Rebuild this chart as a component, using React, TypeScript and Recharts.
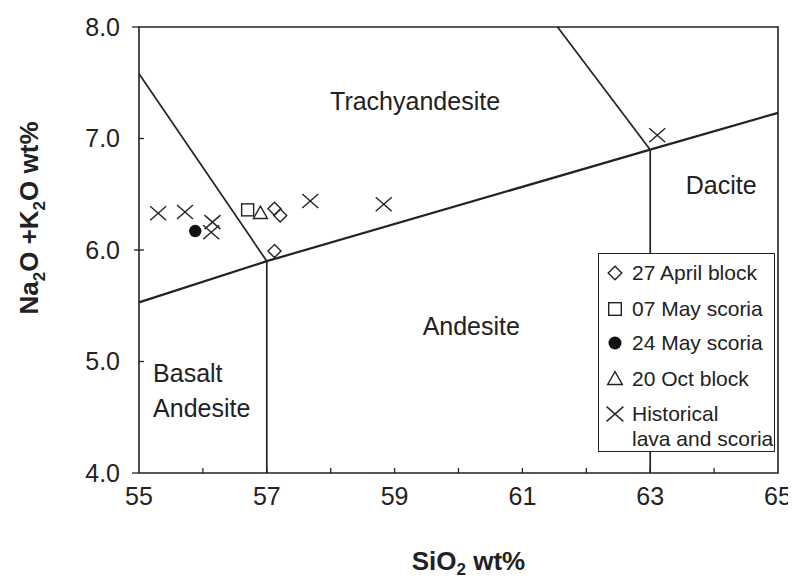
import React from 'react';
import {
  ComposedChart,
  Scatter,
  XAxis,
  YAxis,
  ReferenceLine,
  ReferenceArea,
  ReferenceDot,
  Legend,
  Label,
} from 'recharts';

const FONT = '"Liberation Sans", Arial, Helvetica, sans-serif';
const INK = '#222222';

// ---- axis ticks ----
const xTicks = [55, 56, 57, 58, 59, 60, 61, 62, 63, 64, 65];
const xTickLabels = ['55', '', '57', '', '59', '', '61', '', '63', '', '65'];
const yTicks = [4, 5, 6, 7, 8];
const yTickLabels = ['4.0', '5.0', '6.0', '7.0', '8.0'];

// ---- series ----
const seriesNames = ['27 April block', '07 May scoria', '24 May scoria', '20 Oct block', 'Historical'];
const seriesShapes = ['diamond', 'square', 'circle', 'triangle', 'cross'];

const april27 = [
  { x: 57.12, y: 6.37 },
  { x: 57.21, y: 6.31 },
  { x: 57.12, y: 5.99 },
];
const may07 = [{ x: 56.7, y: 6.36 }];
const may24 = [{ x: 55.88, y: 6.17 }];
const oct20 = [{ x: 56.9, y: 6.33 }];
const historical = [
  { x: 55.3, y: 6.33 },
  { x: 55.72, y: 6.34 },
  { x: 56.15, y: 6.25 },
  { x: 56.13, y: 6.16 },
  { x: 57.68, y: 6.44 },
  { x: 58.83, y: 6.41 },
  { x: 63.11, y: 7.03 },
];

// ---- TAS field boundaries (segments) ----
const boundaries = [
  [{ x: 55, y: 5.53 }, { x: 57, y: 5.9 }],
  [{ x: 57, y: 5.9 }, { x: 63, y: 6.9 }],
  [{ x: 63, y: 6.9 }, { x: 65, y: 7.23 }],
  [{ x: 57, y: 4 }, { x: 57, y: 5.9 }],
  [{ x: 63, y: 4 }, { x: 63, y: 6.9 }],
  [{ x: 55, y: 7.58 }, { x: 57, y: 5.9 }],
  [{ x: 61.55, y: 8 }, { x: 63, y: 6.9 }],
];

// ---- field names ----
const fieldNames = ['Trachyandesite', 'Dacite', 'Andesite', 'Basalt', 'Andesite'];
const fieldX = [59.32, 64.11, 60.2, 55.22, 55.22];
const fieldY = [7.336, 6.583, 5.318, 4.897, 4.583];
const fieldAnchor = ['middle', 'middle', 'middle', 'start', 'start'];

function marker(shape: string, cx: number, cy: number, s = 1) {
  const sw = 1.4;
  switch (shape) {
    case 'diamond': {
      const h = 6.5 * s;
      return (
        <polygon
          points={`${cx},${cy - h} ${cx + h},${cy} ${cx},${cy + h} ${cx - h},${cy}`}
          fill="none"
          stroke={INK}
          strokeWidth={sw}
        />
      );
    }
    case 'square': {
      const h = 6 * s;
      return <rect x={cx - h} y={cy - h} width={2 * h} height={2 * h} fill="none" stroke={INK} strokeWidth={sw} />;
    }
    case 'circle':
      return <circle cx={cx} cy={cy} r={6.2 * s} fill="#111" stroke="none" />;
    case 'triangle': {
      const h = 7 * s;
      return (
        <polygon
          points={`${cx},${cy - h} ${cx + h},${cy + 0.75 * h} ${cx - h},${cy + 0.75 * h}`}
          fill="none"
          stroke={INK}
          strokeWidth={sw}
        />
      );
    }
    default: {
      const h = 8 * s;
      const v = 7 * s;
      return (
        <g stroke={INK} strokeWidth={sw}>
          <line x1={cx - h} y1={cy - v} x2={cx + h} y2={cy + v} />
          <line x1={cx - h} y1={cy + v} x2={cx + h} y2={cy - v} />
        </g>
      );
    }
  }
}

const shapeFn = (shape: string) => (props: any) => marker(shape, props.cx, props.cy);

const XTick = (props: any) => {
  const { x, y, payload } = props;
  const v = payload.value;
  const label = xTickLabels[xTicks.indexOf(v)];
  const showLine = v !== 55 && v !== 65;
  return (
    <g>
      {showLine && <line x1={x} x2={x} y1={y} y2={y - 5} stroke={INK} strokeWidth={1.3} />}
      {label && (
        <text x={x} y={y + 32} textAnchor="middle" fontSize={25} fill={INK} fontFamily={FONT}>
          {label}
        </text>
      )}
    </g>
  );
};

const YTick = (props: any) => {
  const { x, y, payload } = props;
  const v = payload.value;
  const label = yTickLabels[yTicks.indexOf(v)];
  const outward = v === 4 || v === 8;
  return (
    <g>
      {outward ? (
        <line x1={x - 7} x2={x} y1={y} y2={y} stroke={INK} strokeWidth={1.3} />
      ) : (
        <line x1={x - (v === 6 ? 5 : 0)} x2={x + 5} y1={y} y2={y} stroke={INK} strokeWidth={1.3} />
      )}
      <text x={x - 19} y={y} dy="0.355em" textAnchor="end" fontSize={25} fill={INK} fontFamily={FONT}>
        {label}
      </text>
    </g>
  );
};

const XAxisTitle = (props: any) => {
  const vb = props.viewBox;
  return (
    <text
      x={vb.x + vb.width / 2 + 10}
      y={vb.y + 97}
      textAnchor="middle"
      fontSize={26}
      fontWeight="bold"
      fill={INK}
      fontFamily={FONT}
    >
      SiO
      <tspan dy={5} fontSize={17}>2</tspan>
      <tspan dy={-5}> wt%</tspan>
    </text>
  );
};

const YAxisTitle = (props: any) => {
  const vb = props.viewBox;
  const cx = vb.x - 50;
  const cy = vb.y + vb.height / 2 - 32;
  return (
    <text
      x={cx}
      y={cy}
      dy="0.36em"
      transform={`rotate(-90, ${cx}, ${cy})`}
      textAnchor="middle"
      fontSize={26}
      fontWeight="bold"
      fill={INK}
      fontFamily={FONT}
    >
      Na
      <tspan dy={7} fontSize={17}>2</tspan>
      <tspan dy={-7}>O +K</tspan>
      <tspan dy={7} fontSize={17}>2</tspan>
      <tspan dy={-7}>O wt%</tspan>
    </text>
  );
};

const legendRowCenters = [19, 55, 89, 125, 160];

const renderLegend = () => (
  <div
    style={{
      position: 'relative',
      width: 177,
      height: 199,
      boxSizing: 'border-box',
      border: `1.5px solid ${INK}`,
      background: '#fff',
      fontFamily: FONT,
      fontSize: 21,
      color: INK,
    }}
  >
    {seriesNames.map((name, i) => (
      <React.Fragment key={name}>
        <svg
          width={20}
          height={20}
          style={{ position: 'absolute', left: 6, top: legendRowCenters[i] - 10 }}
        >
          {marker(seriesShapes[i], 10, 10, 1.05)}
        </svg>
        <div
          style={{
            position: 'absolute',
            left: 33,
            top: legendRowCenters[i] - 12,
            lineHeight: '24px',
            whiteSpace: 'nowrap',
          }}
        >
          {name}
          {i === 4 && <div style={{ lineHeight: '26px' }}>lava and scoria</div>}
        </div>
      </React.Fragment>
    ))}
  </div>
);

const seriesData = [april27, may07, may24, oct20, historical];

export default function App() {
  return (
    <ComposedChart
      width={788}
      height={571}
      margin={{ top: 19, right: 18, bottom: 66, left: 71 }}
      style={{ fontFamily: FONT }}
    >
      <XAxis
        type="number"
        dataKey="x"
        domain={[55, 65]}
        ticks={xTicks}
        interval={0}
        tick={XTick}
        tickSize={0}
        tickMargin={0}
        tickLine={false}
        axisLine={false}
        height={40}
        allowDataOverflow
      >
        <Label content={XAxisTitle} />
      </XAxis>
      <YAxis
        type="number"
        dataKey="y"
        domain={[4, 8]}
        ticks={yTicks}
        interval={0}
        tick={YTick}
        tickSize={0}
        tickMargin={0}
        tickLine={false}
        axisLine={false}
        width={60}
        allowDataOverflow
      >
        <Label content={YAxisTitle} />
      </YAxis>
      <ReferenceArea
        x1={55}
        x2={65}
        y1={4}
        y2={8}
        fill="none"
        stroke={INK}
        strokeWidth={1.6}
        fillOpacity={0}
        ifOverflow="visible"
      />
      {boundaries.map((seg, i) => (
        <ReferenceLine
          key={i}
          segment={seg}
          stroke={INK}
          strokeWidth={i === 3 || i === 4 || i === 5 || i === 6 ? 1.7 : 2.2}
          ifOverflow="visible"
        />
      ))}
      {fieldNames.map((name, i) => (
        <ReferenceDot
          key={i}
          x={fieldX[i]}
          y={fieldY[i]}
          r={0}
          fill="none"
          stroke="none"
          ifOverflow="visible"
          label={(p: any) => {
            const vb = p.viewBox;
            const cx = vb.x + vb.width / 2;
            const cy = vb.y + vb.height / 2;
            return (
              <text
                x={cx}
                y={cy}
                dy="0.355em"
                textAnchor={fieldAnchor[i] as any}
                fontSize={25}
                fill={INK}
                fontFamily={FONT}
              >
                {name}
              </text>
            );
          }}
        />
      ))}
      {seriesData.map((d, i) => (
        <Scatter
          key={seriesNames[i]}
          name={seriesNames[i]}
          data={d}
          dataKey="y"
          shape={shapeFn(seriesShapes[i])}
          isAnimationActive={false}
        />
      ))}
      <Legend
        content={renderLegend}
        layout="vertical"
        align="center"
        verticalAlign="middle"
        width={177}
        height={199}
        wrapperStyle={{ left: 590, top: 245, width: 177, height: 199 }}
      />
    </ComposedChart>
  );
}
